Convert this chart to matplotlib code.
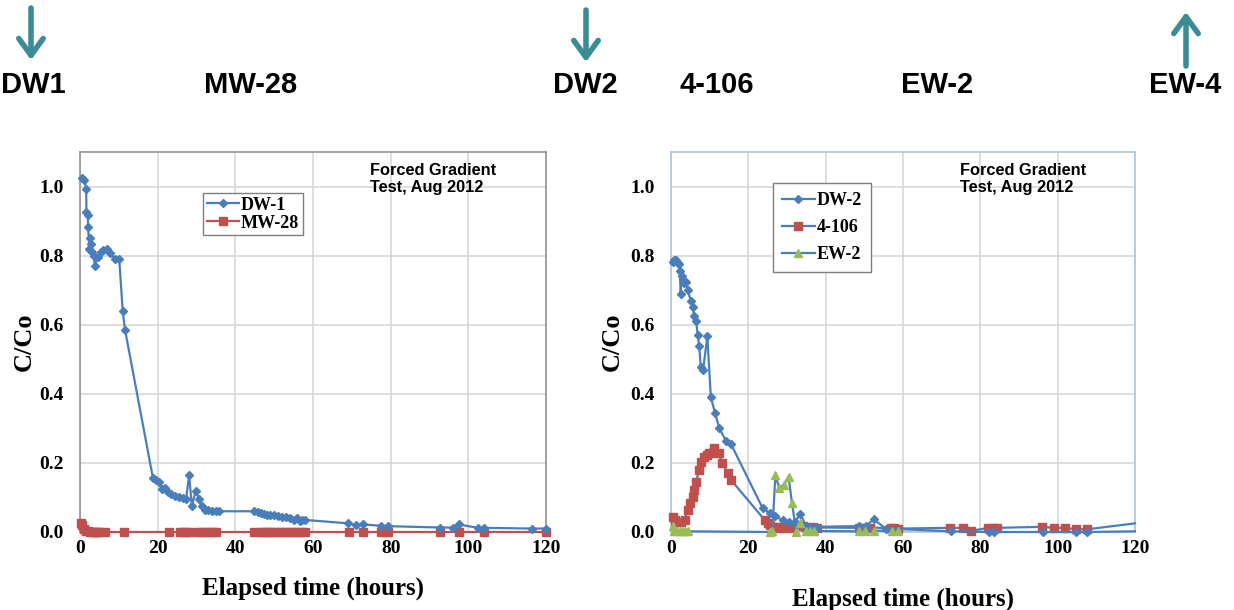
import matplotlib
matplotlib.use("Agg")
import matplotlib.pyplot as plt

# Tracer breakthrough, forced gradient test (Aug 2012)
dw1_t = [0.45, 1.1, 1.6, 1.65, 2.0, 2.1, 2.4, 2.6, 2.75, 3.2, 3.5, 3.85, 4.6, 5.3,
         6.0, 6.9, 7.8, 9.0, 10.1, 11.0, 11.6, 18.8, 19.6, 20.3, 21.0, 21.8,
         22.6, 23.5, 24.5, 25.5, 26.5, 27.3, 28.1, 28.8, 29.8, 30.6, 31.3,
         32.2, 33.0, 34.0, 35.0, 35.9, 44.7, 45.8, 46.6, 47.3, 48.2, 49.0,
         50.0, 51.0, 52.0, 53.0, 54.0, 55.0, 55.8, 56.6, 57.2, 58.0, 69.1,
         71.0, 72.8, 77.6, 79.2, 92.7, 96.0, 97.5, 102.5, 104.0, 116.5, 120.0]
dw1_c = [1.025, 1.02, 0.994, 0.926, 0.918, 0.884, 0.82, 0.85, 0.835, 0.81, 0.80,
         0.77, 0.797, 0.81, 0.817, 0.82, 0.807, 0.79, 0.79, 0.64, 0.585, 0.155,
         0.15, 0.145, 0.125, 0.128, 0.115, 0.11, 0.105, 0.10, 0.097, 0.095,
         0.165, 0.075, 0.12, 0.095, 0.075, 0.065, 0.065, 0.062, 0.06, 0.06,
         0.06, 0.057, 0.055, 0.052, 0.05, 0.048, 0.048, 0.045, 0.044, 0.042,
         0.04, 0.035, 0.04, 0.033, 0.036, 0.035, 0.025, 0.02, 0.022, 0.018,
         0.017, 0.013, 0.013, 0.022, 0.012, 0.012, 0.01, 0.01]

mw28_t = [0.3, 0.6, 1.0, 1.5, 2.0, 2.5, 3.0, 3.5, 4.0, 4.5, 5.0, 6.5, 11.4,
          22.8, 25.8, 26.5, 27.3, 28.2, 30.5, 31.4, 32.4, 33.4, 34.3, 35.0,
          44.7, 46.5, 47.4, 48.2, 49.0, 50.0, 51.0, 52.0, 53.0, 54.0, 55.0,
          56.0, 57.0, 58.0, 69.3, 72.8, 77.6, 78.6, 79.4, 92.7, 97.5, 104.0,
          120.0]
mw28_c = [0.025, 0.02, 0.008, 0.003, 0.002, 0.0, 0.0, 0.0, 0.0, 0.0, 0.0, 0.0,
          0.0, 0.0, 0.0, 0.0, 0.0, 0.0, 0.0, 0.0, 0.0, 0.0, 0.0, 0.0, 0.0,
          0.0, 0.0, 0.0, 0.0, 0.0, 0.0, 0.0, 0.0, 0.0, 0.0, 0.0, 0.0, 0.0,
          0.0, 0.0, 0.0, 0.0, 0.0, 0.0, 0.0, 0.0, 0.0]

dw2_t = [0.4, 0.9, 1.3, 1.7, 2.0, 2.3, 2.5, 2.8, 3.1, 3.4, 3.8, 4.3, 5.1, 5.6,
         6.0, 6.5, 6.9, 7.3, 7.7, 8.3, 9.4, 10.3, 11.4, 12.5, 14.3, 15.5,
         23.7, 25.5, 26.9, 28.9, 30.6, 32.0, 33.4, 35.0, 36.0, 37.5, 48.5,
         50.5, 52.4, 55.5, 72.5, 82.3, 83.5, 96.1, 104.7, 107.7, 120.0]
dw2_c = [0.783, 0.787, 0.786, 0.78, 0.775, 0.755, 0.69, 0.74, 0.725, 0.72,
         0.725, 0.70, 0.67, 0.65, 0.625, 0.61, 0.57, 0.537, 0.479, 0.47, 0.566,
         0.39, 0.344, 0.30, 0.262, 0.255, 0.069, 0.055, 0.045, 0.035, 0.03,
         0.028, 0.052, 0.016, 0.015, 0.015, 0.017, 0.018, 0.037, 0.01, 0.002,
         0.0, 0.0, 0.0, 0.0, 0.0, 0.002]

w4106_t = [0.45, 1.0, 1.7, 2.5, 3.5, 4.3, 4.9, 5.6, 6.0, 6.5, 7.3, 7.8, 8.6,
           9.3, 9.9, 10.6, 11.2, 12.5, 13.2, 14.7, 15.5, 24.2, 25.0, 25.5,
           26.5, 27.5, 28.3, 29.0, 29.8, 30.6, 31.5, 34.1, 35.0, 35.9, 36.8,
           37.7, 48.5, 49.5, 50.5, 51.5, 56.8, 57.8, 58.8, 72.2, 75.6, 77.5,
           82.0, 83.2, 84.2, 96.0, 99.0, 102.0, 104.8, 107.7, 120.0]
w4106_c = [0.043, 0.035, 0.03, 0.028, 0.035, 0.064, 0.083, 0.102, 0.122, 0.146,
           0.18, 0.204, 0.218, 0.222, 0.228, 0.23, 0.243, 0.228, 0.199, 0.17,
           0.151, 0.035, 0.025, 0.02, 0.015, 0.015, 0.013, 0.015, 0.012, 0.015,
           0.013, 0.016, 0.014, 0.013, 0.014, 0.013, 0.012, 0.013, 0.012, 0.013,
           0.011, 0.011, 0.01, 0.012, 0.012, 0.003, 0.012, 0.013, 0.012, 0.015,
           0.012, 0.012, 0.008, 0.008, 0.025]

ew2_t = [0.45, 0.8, 1.5, 2.2, 3.0, 3.7, 4.5, 25.5, 26.2, 27.0, 28.0, 29.1,
         30.4, 31.3, 32.4, 33.4, 35.0, 36.0, 37.0, 48.5, 50.2, 52.4, 57.2, 58.6]
ew2_c = [0.017, 0.004, 0.003, 0.002, 0.003, 0.002, 0.002, 0.0, 0.002, 0.165,
         0.127, 0.136, 0.16, 0.083, 0.0, 0.025, 0.002, 0.003, 0.003, 0.002,
         0.003, 0.004, 0.003, 0.002]

wells = ["DW1", "MW-28", "DW2", "4-106", "EW-2", "EW-4"]

BLUE = "#4a7ebb"
RED = "#c0504d"
GREEN = "#9bbb59"
TEAL = "#3a8c95"
W, H = 1234, 610

plt.rcParams["font.family"] = "Liberation Serif"
plt.rcParams["font.weight"] = "bold"

fig = plt.figure(figsize=(W / 100, H / 100), dpi=100)
ax1 = fig.add_axes([80 / W, 78 / H, 466 / W, 380 / H])
ax2 = fig.add_axes([671 / W, 78 / H, 464 / W, 380 / H])

ax1.plot(dw1_t, dw1_c, color=BLUE, lw=1.6, marker="D", ms=3.8, label="DW-1", clip_on=False, zorder=4)
ax1.plot(mw28_t, mw28_c, color=RED, lw=1.6, marker="s", ms=6, label="MW-28", clip_on=False, zorder=3)

# last points sit on the frame, no marker drawn there
ax2.plot(dw2_t, dw2_c, color=BLUE, lw=1.6, marker="D", ms=3.8, label="DW-2",
         markevery=slice(0, len(dw2_t) - 1), clip_on=False, zorder=4)
ax2.plot(w4106_t, w4106_c, color=BLUE, lw=1.6, marker="s", ms=6, mfc=RED, mec=RED,
         markevery=slice(0, len(w4106_t) - 1), label="4-106", clip_on=False, zorder=3)
ax2.plot(ew2_t, ew2_c, color=BLUE, lw=1.6, marker="^", ms=6, mfc=GREEN, mec=GREEN,
         label="EW-2", clip_on=False, zorder=5)

for ax, edge in [(ax1, "#8c8c8c"), (ax2, "#a9c0dc")]:
    ax.set_xlim(0, 120)
    ax.set_ylim(0, 1.1)
    ax.set_xticks(range(0, 121, 20))
    ax.set_yticks([0.0, 0.2, 0.4, 0.6, 0.8, 1.0])
    ax.set_yticklabels(["0.0", "0.2", "0.4", "0.6", "0.8", "1.0"])
    ax.grid(True, color="#d4d4d4", lw=1.1)
    ax.set_axisbelow(True)
    ax.tick_params(length=0, labelsize=14, pad=6)
    ax.tick_params(axis="y", pad=12)
    for s in ax.spines.values():
        s.set_color(edge)
        s.set_linewidth(1.1)
    ax.set_ylabel("C/Co", fontsize=19, fontweight="bold")
    ax.set_xlabel("Elapsed time (hours)", fontsize=18, fontweight="bold")
    ax.text(74.7, 1.068, "Forced Gradient\nTest, Aug 2012", fontsize=11.8, fontweight="bold",
            family="Liberation Sans", va="top", ha="left", linespacing=1.2)

ax1.yaxis.set_label_coords(-0.094, 0.5)
ax2.yaxis.set_label_coords(-0.101, 0.5)
ax1.xaxis.set_label_coords(0.5, -0.118)
ax2.xaxis.set_label_coords(0.5, -0.145)

leg_font = {"family": "Liberation Serif", "weight": "bold", "size": 13}
ax1.legend(loc="upper left", bbox_to_anchor=(0.264, 0.892), prop=leg_font, fancybox=False,
           edgecolor="#7f7f7f", framealpha=1, handlelength=1.8, handletextpad=0.1,
           borderpad=0.2, labelspacing=0.05, borderaxespad=0)
ax2.legend(loc="upper left", bbox_to_anchor=(0.22, 0.918), prop=leg_font, fancybox=False,
           edgecolor="#7f7f7f", framealpha=1, handlelength=1.8, handletextpad=0.1,
           borderpad=0.5, labelspacing=0.55, borderaxespad=0)

# well names and pumping arrows across the top
name_x = [33, 251, 585, 717, 937, 1185]
for name, x in zip(wells, name_x):
    fig.text(x / W, 1 - 85 / H, name, ha="center", va="center", fontsize=21,
             fontweight="bold", family="Liberation Sans")

arrows = [(31, 8, 60), (586, 10, 62), (1186, 66, 12)]
for x, y_tail, y_tip in arrows:
    fig.add_artist(plt.Annotation("", xy=(x, H - y_tip), xycoords="figure pixels",
                                  xytext=(x, H - y_tail), textcoords="figure pixels",
                                  arrowprops=dict(arrowstyle="->,head_length=0.55,head_width=0.4",
                                                  color=TEAL, lw=4, mutation_scale=22,
                                                  shrinkA=0, shrinkB=0)))

fig.savefig("out.png", dpi=100)
